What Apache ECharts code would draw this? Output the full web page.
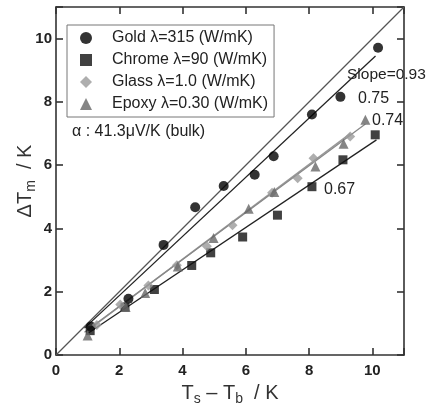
<!DOCTYPE html>
<html><head><meta charset="utf-8">
<script src="https://cdn.jsdelivr.net/npm/echarts@6/dist/echarts.min.js"></script>
<style>html,body{margin:0;padding:0;background:#fff}#c{width:428px;height:408px}</style>
</head><body><div id="c"></div>
<script>
var seriesNames = ['Gold λ=315 (W/mK)', 'Chrome λ=90 (W/mK)', 'Glass λ=1.0 (W/mK)', 'Epoxy λ=0.30 (W/mK)'];
var gold   = [[1.1,0.9],[2.29,1.78],[3.40,3.48],[4.40,4.67],[5.30,5.34],[6.28,5.70],[6.88,6.28],[8.09,7.60],[8.99,8.16],[10.18,9.71]];
var chrome = [[1.08,0.77],[2.18,1.51],[3.11,2.07],[4.29,2.83],[4.89,3.23],[5.90,3.73],[7.00,4.42],[8.09,5.32],[9.07,6.17],[10.09,6.96]];
var glass  = [[1.29,0.95],[2.03,1.60],[2.92,2.20],[3.82,2.84],[4.77,3.44],[5.58,4.10],[6.83,5.13],[7.64,5.59],[8.14,6.22],[9.30,6.91]];
var epoxy  = [[1.0,0.62],[2.2,1.52],[2.82,1.96],[3.85,2.80],[4.98,3.70],[6.09,4.62],[6.9,5.15],[8.20,5.96],[9.09,6.68],[9.78,7.44]];
var goldFit   = [[0.9,0.85],[10.1,9.45]];
var chromeFit = [[1.0,0.68],[10.13,6.80]];
var glassFit  = [[1.0,0.78],[9.3,7.0]];
var epoxyFit  = [[0.9,0.72],[9.78,7.3]];
var diagonal  = [[0,0],[11,11]];
var slopeLabels = ['Slope=0.93', '0.75', '0.74', '0.67'];
var alphaNote = 'α : 41.3μV/K (bulk)';
var xTicks = [0,2,4,6,8,10];
var yTicks = [0,2,4,6,8,10];

var FONT = "'Liberation Sans', Arial, sans-serif";
var chart = echarts.init(document.getElementById('c'));
function scatter(name, data, symbol, color, size) {
  return {type:'scatter', name:name, data:data, symbol:symbol, symbolSize:size,
          itemStyle:{color:color}, z:5};
}
function line(data, color, w) {
  return {type:'line', data:data, symbol:'none', silent:true,
          lineStyle:{color:color, width:w}, z:3};
}
var axisCommon = {
  type:'value', min:0, max:11, interval:2,
  axisLine:{show:true, onZero:false, lineStyle:{color:'#333', width:1.6}},
  axisTick:{show:true, inside:true, length:7, lineStyle:{color:'#333', width:1.6}},
  splitLine:{show:false}
};
chart.setOption({
  animation:false,
  grid:{left:56, right:24, top:7, bottom:53, containLabel:false, outerBoundsMode:'none'},
  xAxis:[
    Object.assign({}, axisCommon, {
      position:'bottom',
      axisLabel:{color:'#222', fontSize:15, fontWeight:'bold', fontFamily:FONT, margin:8,
        formatter:function(v){return xTicks.indexOf(v)>=0 ? String(v) : '';}},
      name:'T{s|s} – T{s|b}  / K', nameLocation:'middle', nameGap:28, nameMoveOverlap:false,
      nameTextStyle:{color:'#333', fontSize:20, fontFamily:FONT,
        rich:{s:{fontSize:14, fontFamily:FONT, color:'#333', verticalAlign:'bottom', padding:[0,0,-3,0]}}}
    }),
    Object.assign({}, axisCommon, {position:'top', axisLabel:{show:false}})
  ],
  yAxis:[
    Object.assign({}, axisCommon, {
      position:'left',
      axisLabel:{color:'#222', fontSize:15, fontWeight:'bold', fontFamily:FONT, margin:4,
        formatter:function(v){return yTicks.indexOf(v)>=0 ? String(v) : '';}},
      name:'ΔT{s|m}  / K', nameLocation:'middle', nameGap:21, nameMoveOverlap:false,
      nameTextStyle:{color:'#333', fontSize:20, fontFamily:FONT,
        rich:{s:{fontSize:14, fontFamily:FONT, color:'#333', verticalAlign:'bottom', padding:[0,0,-3,0]}}}
    }),
    Object.assign({}, axisCommon, {position:'right', axisLabel:{show:false}})
  ],
  legend:{
    data:seriesNames, orient:'vertical', left:67, top:25,
    padding:[5,6,5,13], itemGap:6, itemWidth:12, itemHeight:12,
    borderColor:'#777', borderWidth:1, backgroundColor:'#fff',
    textStyle:{color:'#222', fontSize:16, fontFamily:FONT, lineHeight:15, padding:[0,0,0,15]}
  },
  graphic:[
    {type:'text', left:72, top:124, style:{text:alphaNote, fill:'#222', font:'16px '+FONT}},
    {type:'text', left:347, top:67, style:{text:slopeLabels[0], fill:'#222', font:'15.5px '+FONT}},
    {type:'text', left:358, top:91, style:{text:slopeLabels[1], fill:'#222', font:'16px '+FONT}},
    {type:'text', left:372, top:113, style:{text:slopeLabels[2], fill:'#222', font:'16px '+FONT}},
    {type:'text', left:324, top:182, style:{text:slopeLabels[3], fill:'#222', font:'16px '+FONT}}
  ],
  series:[
    line(diagonal, '#555', 1.2),
    line(goldFit, '#222', 1.3),
    line(chromeFit, '#222', 1.3),
    line(glassFit, '#999', 1.6),
    line(epoxyFit, '#888', 1.3),
    scatter(seriesNames[0], gold, 'circle', '#000', 10),
    scatter(seriesNames[1], chrome, 'rect', '#111', 9),
    scatter(seriesNames[2], glass, 'diamond', '#9a9a9a', 10),
    scatter(seriesNames[3], epoxy, 'triangle', '#666', 10)
  ]
});
</script></body></html>
